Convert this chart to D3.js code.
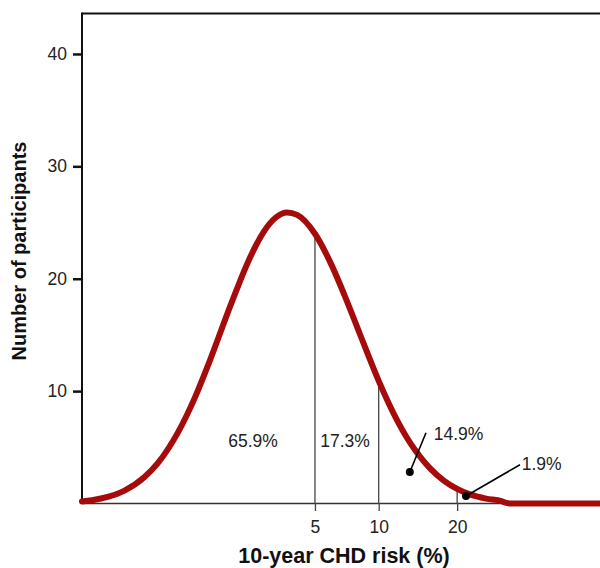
<!DOCTYPE html>
<html>
<head>
<meta charset="utf-8">
<script src="https://cdn.jsdelivr.net/npm/d3@7"></script>
<style>
  html, body { margin: 0; padding: 0; background: #fff; }
  svg { display: block; font-family: Arial, "Liberation Sans", Helvetica, sans-serif; }
</style>
</head>
<body>
<svg id="chart" width="600" height="568"></svg>
<script>
// ---- data ----
const riskValues = [0.01, 0.02, 0.05, 0.1, 0.2, 0.3, 0.5, 0.75, 1, 1.5, 2, 2.5, 3, 3.5, 4, 5, 6, 7, 8, 9, 10, 11, 12, 13, 14, 15, 16, 18, 20, 22, 25, 28, 29, 30, 40, 53.3];
const participantCounts = [0.18, 0.29, 0.61, 1.15, 2.33, 3.59, 6.24, 9.51, 12.61, 17.83, 21.63, 24.11, 25.45, 25.9, 25.68, 24.0, 21.43, 18.59, 15.8, 13.22, 10.91, 8.95, 7.29, 5.92, 4.8, 3.89, 3.13, 2.02, 1.3, 0.83, 0.43, 0.22, 0.05, 0, 0, 0];
const xTickValues = [5, 10, 20];
const yTickValues = [10, 20, 30, 40];
const cutoffRisks = [5, 10, 20];
const cutoffCounts = [24.0, 10.9, 1.4];
const sectionLabels = ["65.9%", "17.3%"];
const sectionLabelRisk = [2.14, 7.06];
const sectionLabelCount = [5.03, 5.03];
const calloutLabels = ["14.9%", "1.9%"];
const calloutTextRisk = [16.5, 32.3];
const calloutTextCount = [5.65, 2.98];
const calloutDotRisk = [13.4, 21.45];
const calloutDotCount = [2.8, 0.67];
const calloutEndRisk = [15.45, 31.9];
const calloutEndCount = [6.3, 3.45];
const xTitle = "10-year CHD risk (%)";
const yTitle = "Number of participants";

// ---- layout ----
const mLeft = 82, mRight = 600, mTop = 13.5, mBottom = 503.5;
const svg = d3.select("#chart");

const x = d3.scalePow().exponent(0.3).domain([0.01, 53.3]).range([mLeft, mRight]);
const y = d3.scaleLinear().domain([0, 43.6]).range([mBottom, mTop]);

// frame: top border and left axis line
svg.append("line").attr("x1", mLeft).attr("x2", mRight).attr("y1", mTop).attr("y2", mTop)
  .attr("stroke", "#111").attr("stroke-width", 2);
svg.append("line").attr("x1", mLeft).attr("x2", mLeft).attr("y1", mTop - 1).attr("y2", mBottom)
  .attr("stroke", "#111").attr("stroke-width", 2);

// y axis
const yAxis = svg.append("g").attr("transform", `translate(${mLeft},0)`)
  .call(d3.axisLeft(y).tickValues(yTickValues).tickSize(9).tickPadding(6).tickFormat(d3.format("d")));
yAxis.select(".domain").remove();
yAxis.selectAll(".tick line").attr("stroke", "#111").attr("stroke-width", 2.5);
yAxis.selectAll(".tick text").attr("font-size", 17.5).attr("fill", "#222")
  .attr("font-family", "Arial, 'Liberation Sans', sans-serif");

// x axis
const xAxisY = 503;
const xAxis = svg.append("g").attr("transform", `translate(0,${xAxisY})`)
  .call(d3.axisBottom(x).tickValues(xTickValues).tickSize(8).tickSizeOuter(0).tickPadding(10).tickFormat(d3.format("d")));
xAxis.select(".domain").attr("stroke", "#333").attr("stroke-width", 1.3);
xAxis.selectAll(".tick line").attr("stroke", "#444").attr("stroke-width", 1.3);
xAxis.selectAll(".tick text").attr("font-size", 17.5).attr("fill", "#222")
  .attr("font-family", "Arial, 'Liberation Sans', sans-serif");

// cutoff lines from curve to axis
svg.append("g").selectAll("line").data(cutoffRisks).join("line")
  .attr("x1", d => x(d)).attr("x2", d => x(d))
  .attr("y1", (d, i) => y(cutoffCounts[i])).attr("y2", xAxisY)
  .attr("stroke", "#444").attr("stroke-width", 1.3);

// distribution curve
const pts = riskValues.map((r, i) => [r, participantCounts[i]]);
const line = d3.line().x(d => x(d[0])).y(d => y(d[1])).curve(d3.curveMonotoneX);
svg.append("path").datum(pts).attr("d", line)
  .attr("fill", "none").attr("stroke", "#a60b0b").attr("stroke-width", 6)
  .attr("stroke-linejoin", "round").attr("stroke-linecap", "round");

// section labels
svg.append("g").selectAll("text").data(sectionLabels).join("text")
  .attr("x", (d, i) => x(sectionLabelRisk[i])).attr("y", (d, i) => y(sectionLabelCount[i]))
  .attr("text-anchor", "middle").attr("font-size", 17.5).attr("fill", "#222").text(d => d);

// callouts
const co = svg.append("g");
co.selectAll("line").data(calloutLabels).join("line")
  .attr("x1", (d, i) => x(calloutDotRisk[i])).attr("y1", (d, i) => y(calloutDotCount[i]))
  .attr("x2", (d, i) => x(calloutEndRisk[i])).attr("y2", (d, i) => y(calloutEndCount[i]))
  .attr("stroke", "#000").attr("stroke-width", 1.6);
co.selectAll("circle").data(calloutLabels).join("circle")
  .attr("cx", (d, i) => x(calloutDotRisk[i])).attr("cy", (d, i) => y(calloutDotCount[i]))
  .attr("r", 4).attr("fill", "#000");
co.selectAll("text").data(calloutLabels).join("text")
  .attr("x", (d, i) => x(calloutTextRisk[i])).attr("y", (d, i) => y(calloutTextCount[i]))
  .attr("font-size", 17.5).attr("fill", "#222").text(d => d);

// axis titles
svg.append("text").attr("x", 344).attr("y", 563).attr("text-anchor", "middle")
  .attr("font-size", 21.5).attr("font-weight", "bold").attr("fill", "#111").text(xTitle);
svg.append("text").attr("transform", "translate(26,251) rotate(-90)").attr("text-anchor", "middle")
  .attr("font-size", 20).attr("font-weight", "bold").attr("fill", "#111").text(yTitle);
</script>
</body>
</html>
